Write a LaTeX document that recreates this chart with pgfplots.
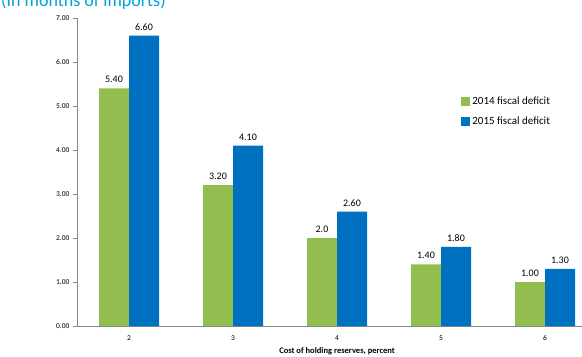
\documentclass[border=0pt]{standalone}
\usepackage{pgfplots}
\pgfplotsset{compat=1.18}
\usepackage{fontspec}
\setmainfont{Carlito}

\definecolor{barGreen}{RGB}{146,190,80}
\definecolor{barBlue}{RGB}{0,112,192}
\definecolor{titleBlue}{RGB}{0,160,220}
\definecolor{axisGray}{RGB}{134,134,134}

\begin{document}
\begin{tikzpicture}[x=1bp,y=1bp]
\path[use as bounding box, clip] (0,0) rectangle (582,356);
\node[anchor=base west, inner sep=0pt, text=titleBlue,
      font=\fontsize{18bp}{20bp}\selectfont] at (1,350) {(In months of imports)};
\begin{axis}[
  at={(77bp,30bp)}, anchor=south west,
  scale only axis, width=520bp, height=308bp,
  xmin=-0.5, xmax=4.5, ymin=0, ymax=7,
  axis lines=left, axis line style={axisGray, -},
  ybar=0pt, bar width=30bp,
  xtick={0,1,2,3,4}, xticklabels={2,3,4,5,6},
  major x tick style={draw=none},
  extra x ticks={-0.5,0.5,1.5,2.5,3.5},
  extra x tick labels={},
  extra x tick style={tick style={axisGray, draw=axisGray}, major tick length=4bp, tick align=outside},
  ytick={0,1,...,7},
  yticklabel style={/pgf/number format/.cd, fixed, fixed zerofill, precision=2},
  /pgf/number format/assume math mode=true,
  y tick style={axisGray}, major tick length=4bp, tick align=outside,
  tick label style={font=\fontsize{7.5bp}{8bp}\selectfont, text=black},
  xticklabel style={yshift=-2bp},
  xlabel={\bfseries Cost of holding reserves, percent},
  xlabel style={font=\fontsize{8.5bp}{9bp}\selectfont, yshift=8bp},
  nodes near coords, point meta=explicit symbolic,
  every node near coord/.append style={font=\fontsize{10bp}{11bp}\selectfont, text=black, yshift=2bp},
  legend style={at={(0.733,0.757)}, anchor=north west, draw=none, fill=none,
    font=\fontsize{11bp}{12bp}\selectfont, row sep=7bp,
    /tikz/every even column/.append style={column sep=2bp}},
  legend cell align=left,
  legend image code/.code={\fill[#1] (0bp,-4bp) rectangle (9bp,5bp);},
]
\addplot[fill=barGreen, draw=none] coordinates {
  (0,5.40) [5.40]
  (1,3.20) [3.20]
  (2,2.0)  [2.0]
  (3,1.40) [1.40]
  (4,1.00) [1.00]
};
\addplot[fill=barBlue, draw=none] coordinates {
  (0,6.60) [6.60]
  (1,4.10) [4.10]
  (2,2.60) [2.60]
  (3,1.80) [1.80]
  (4,1.30) [1.30]
};
\legend{2014 fiscal deficit, 2015 fiscal deficit}
\end{axis}
\end{tikzpicture}
\end{document}
